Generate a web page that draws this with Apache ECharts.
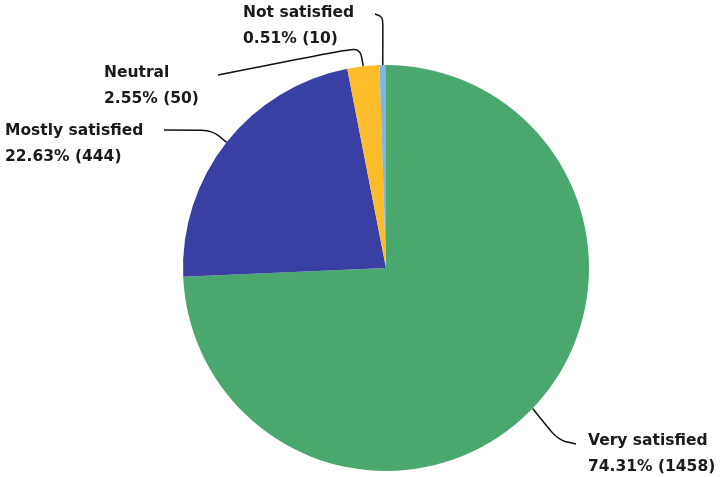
<!DOCTYPE html>
<html><head><meta charset="utf-8">
<script src="https://cdn.jsdelivr.net/npm/echarts@6/dist/echarts.min.js"></script>
<style>html,body{margin:0;padding:0;background:#fff}#c{width:722px;height:477px}</style>
</head><body><div id="c"></div>
<script>
const categories = ['Very satisfied', 'Mostly satisfied', 'Neutral', 'Not satisfied'];
const counts = [1458, 444, 50, 10];
const colors = ['#4aa86f', '#3a3fa4', '#fdbd2b', '#7db6e3'];
// label anchor (left, top) and leader bend points
const labelPos = [[588, 428], [5, 118], [104, 60], [243, 0]];
const leaderMid = [[558, 440], [212, 130], [360, 47], [383, 17]];
const leaderEnd = [[576, 444], [164, 130], [218, 75], [375, 14]];

const chart = echarts.init(document.getElementById('c'));
chart.setOption({
  animation: false,
  series: [{
    type: 'pie',
    center: [386, 268],
    radius: [0, 203],
    startAngle: 90,
    clockwise: true,
    data: categories.map((n, i) => ({ name: n, value: counts[i], itemStyle: { color: colors[i] } })),
    label: {
      show: true,
      formatter: '{b}\n{d}% ({c})',
      fontFamily: 'DejaVu Sans',
      fontWeight: 'bold',
      fontSize: 15.5,
      lineHeight: 26,
      color: '#1a1a1a'
    },
    labelLine: { show: true, smooth: 0.3, lineStyle: { color: '#111', width: 1.5 } },
    labelLayout: function (p) {
      const i = p.dataIndex;
      const pts = p.labelLinePoints;
      const start = pts ? pts[0] : leaderMid[i];
      return {
        x: labelPos[i][0], y: labelPos[i][1], align: 'left', verticalAlign: 'top',
        labelLinePoints: [start, leaderMid[i], leaderEnd[i]]
      };
    }
  }]
});
</script></body></html>
